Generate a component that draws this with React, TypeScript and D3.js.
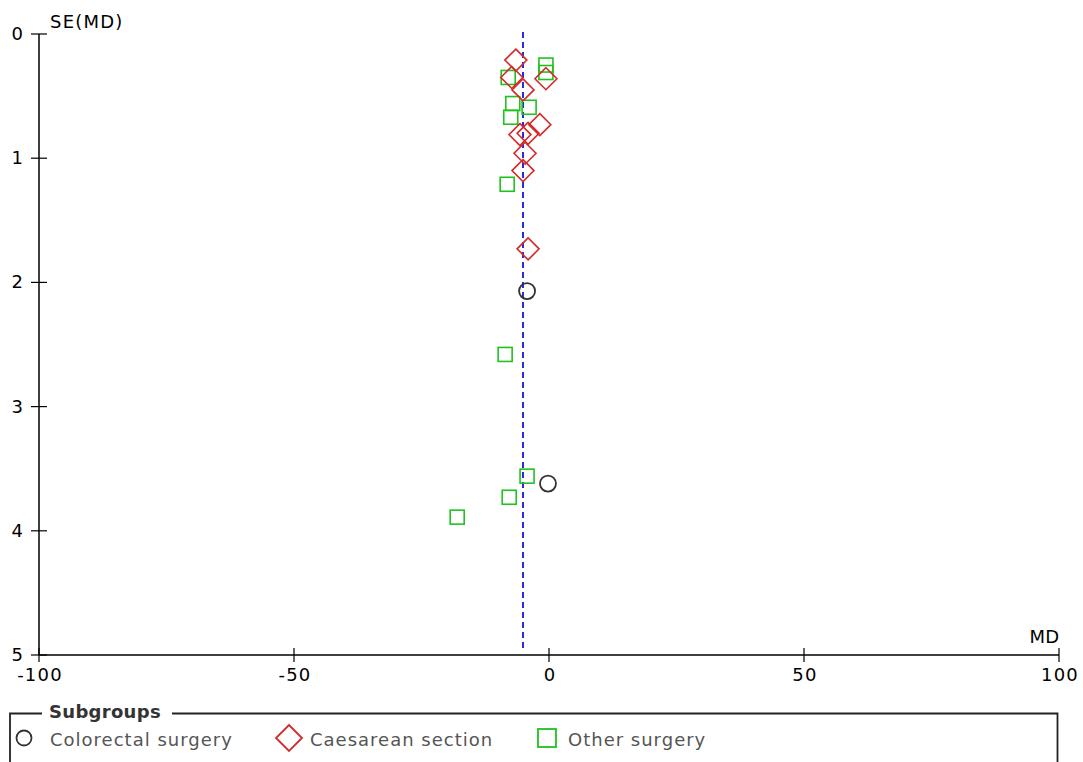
import React, { useRef, useEffect } from "react";
import * as d3 from "d3";

// MD vs SE(MD) for each study, grouped by subgroup
const colorectalMD = [-4.3, -0.2];
const colorectalSE = [2.07, 3.62];

const caesareanMD = [-6.5, -7.3, -5.1, -0.6, -1.8, -5.7, -4.1, -4.7, -5.1, -4.1];
const caesareanSE = [0.21, 0.35, 0.45, 0.36, 0.73, 0.81, 0.8, 0.96, 1.1, 1.73];

const otherMD = [-0.6, -0.6, -8.0, -7.1, -3.9, -7.5, -8.2, -8.6, -4.3, -7.8, -18.0];
const otherSE = [0.25, 0.31, 0.35, 0.56, 0.59, 0.67, 1.21, 2.58, 3.56, 3.73, 3.89];

const pooledMD = -5.1;

const xTicks = [-100, -50, 0, 50, 100];
const yTicks = [0, 1, 2, 3, 4, 5];

const subgroups = ["Colorectal surgery", "Caesarean section", "Other surgery"];

const W = 1083;
const H = 762;
const FONT = "'DejaVu Sans', Verdana, sans-serif";

const App = () => {
  const svgRef = useRef<SVGSVGElement>(null);

  useEffect(() => {
    const svg = d3.select(svgRef.current);
    svg.selectAll("*").remove();

    const x = d3.scaleLinear().domain([-100, 100]).range([39, 1059]);
    const y = d3.scaleLinear().domain([0, 5]).range([34, 655]);

    const g = svg.append("g");

    // axes
    g.append("line")
      .attr("x1", x(-100)).attr("x2", x(-100))
      .attr("y1", y(0)).attr("y2", y(5))
      .attr("stroke", "#000").attr("stroke-width", 1.5);
    g.append("line")
      .attr("x1", x(-100)).attr("x2", x(100))
      .attr("y1", y(5)).attr("y2", y(5))
      .attr("stroke", "#000").attr("stroke-width", 1.5);

    g.selectAll(".ytick")
      .data(yTicks)
      .join("line")
      .attr("x1", x(-100) - 8).attr("x2", x(-100) + 8)
      .attr("y1", (d) => y(d)).attr("y2", (d) => y(d))
      .attr("stroke", "#000").attr("stroke-width", 1.2);
    g.selectAll(".ylab")
      .data(yTicks)
      .join("text")
      .attr("x", 23)
      .attr("y", (d) => y(d) + 6)
      .attr("text-anchor", "end")
      .attr("font-family", FONT)
      .attr("font-size", 18)
      .attr("fill", "#000")
      .text((d) => d);

    g.selectAll(".xtick")
      .data(xTicks)
      .join("line")
      .attr("x1", (d) => x(d)).attr("x2", (d) => x(d))
      .attr("y1", y(5) - 7).attr("y2", y(5) + 7)
      .attr("stroke", "#000").attr("stroke-width", 1.2);
    g.selectAll(".xlab")
      .data(xTicks)
      .join("text")
      .attr("x", (d) => x(d) + 1)
      .attr("y", y(5) + 26)
      .attr("text-anchor", "middle")
      .attr("font-family", FONT)
      .attr("font-size", 18)
      .attr("letter-spacing", 1.2)
      .attr("fill", "#000")
      .text((d) => d);

    g.append("text")
      .attr("x", 50).attr("y", 28)
      .attr("font-family", FONT).attr("font-size", 18)
      .attr("letter-spacing", 1.2)
      .text("SE(MD)");
    g.append("text")
      .attr("x", 1059).attr("y", 643)
      .attr("text-anchor", "end")
      .attr("font-family", FONT).attr("font-size", 18)
      .text("MD");

    // pooled estimate
    g.append("line")
      .attr("x1", x(pooledMD)).attr("x2", x(pooledMD))
      .attr("y1", y(0) - 2).attr("y2", y(5) - 7)
      .attr("stroke", "#2a2ad8").attr("stroke-width", 2)
      .attr("stroke-dasharray", "6,4");

    // markers
    const squares = d3.zip(otherMD, otherSE);
    g.selectAll(".sq")
      .data(squares)
      .join("rect")
      .attr("x", (d) => x(d[0]) - 7)
      .attr("y", (d) => y(d[1]) - 7)
      .attr("width", 14).attr("height", 14)
      .attr("fill", "none").attr("stroke", "#1fc21f").attr("stroke-width", 1.6);

    const diamonds = d3.zip(caesareanMD, caesareanSE);
    const diamond = "M0,-11L11,0L0,11L-11,0Z";
    g.selectAll(".dm")
      .data(diamonds)
      .join("path")
      .attr("d", diamond)
      .attr("transform", (d) => `translate(${x(d[0])},${y(d[1])})`)
      .attr("fill", "none").attr("stroke", "#d42a2a").attr("stroke-width", 1.6);

    const circles = d3.zip(colorectalMD, colorectalSE);
    g.selectAll(".ci")
      .data(circles)
      .join("circle")
      .attr("cx", (d) => x(d[0]))
      .attr("cy", (d) => y(d[1]))
      .attr("r", 8)
      .attr("fill", "none").attr("stroke", "#333").attr("stroke-width", 1.8);

    // legend
    const lg = svg.append("g");
    lg.append("path")
      .attr("d", `M10,762V713.5H42M172,713.5H1057.5V762`)
      .attr("fill", "none").attr("stroke", "#222").attr("stroke-width", 1.8);
    lg.append("text")
      .attr("x", 49).attr("y", 718)
      .attr("font-family", FONT).attr("font-size", 18).attr("font-weight", "bold")
      .attr("letter-spacing", 0.3)
      .attr("fill", "#333")
      .text("Subgroups");

    const markX = [24, 289, 547];
    const textX = [50, 310, 568];
    const ly = 738;
    lg.append("circle")
      .attr("cx", markX[0]).attr("cy", ly).attr("r", 7.5)
      .attr("fill", "none").attr("stroke", "#333").attr("stroke-width", 1.8);
    lg.append("path")
      .attr("d", "M0,-13L13,0L0,13L-13,0Z")
      .attr("transform", `translate(${markX[1]},${ly})`)
      .attr("fill", "none").attr("stroke", "#d42a2a").attr("stroke-width", 1.8);
    lg.append("rect")
      .attr("x", markX[2] - 9).attr("y", ly - 9)
      .attr("width", 18).attr("height", 18)
      .attr("fill", "none").attr("stroke", "#1fc21f").attr("stroke-width", 1.8);
    lg.selectAll(".lt")
      .data(subgroups)
      .join("text")
      .attr("x", (_, i) => textX[i])
      .attr("y", 746)
      .attr("font-family", FONT)
      .attr("font-size", 18)
      .attr("letter-spacing", 1)
      .attr("fill", "#555")
      .text((d) => d);
  }, []);

  return (
    <svg
      ref={svgRef}
      width={W}
      height={H}
      style={{ position: "absolute", left: 0, top: 0, background: "#fff" }}
    ></svg>
  );
};

export default App;
